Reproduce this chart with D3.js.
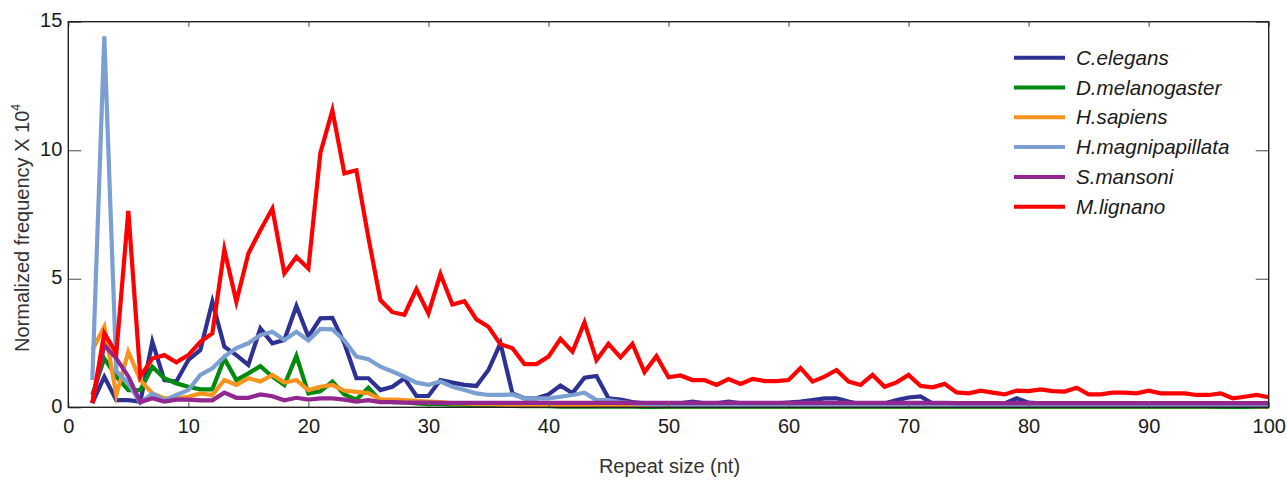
<!DOCTYPE html>
<html>
<head>
<meta charset="utf-8">
<script src="https://cdn.jsdelivr.net/npm/d3@7"></script>
<style>
  html, body { margin: 0; padding: 0; background: #ffffff; }
  svg { display: block; font-family: "Liberation Sans", Arial, Helvetica, sans-serif; }
</style>
</head>
<body>
<svg id="chart" width="1287" height="481"></svg>
<script>
// ---- data ----
const repeatSizes = d3.range(2, 101); // 2..100 nt

const species = ["C.elegans", "D.melanogaster", "H.sapiens", "H.magnipapillata", "S.mansoni", "M.lignano"];
const colors = ["#2e3192", "#008a0e", "#f7941d", "#7b9fd1", "#92278f", "#ff0000"];

const cElegans = [
  0.16, 1.19, 0.28, 0.28, 0.22, 2.55, 1.06, 1.0, 1.84, 2.23,
  4.11, 2.36, 2.03, 1.65, 3.07, 2.49, 2.62, 3.94, 2.75, 3.46,
  3.48, 2.49, 1.13, 1.13, 0.67, 0.8, 1.13, 0.44, 0.44, 1.06,
  0.96, 0.87, 0.83, 1.45, 2.49, 0.54, 0.35, 0.35, 0.5, 0.85,
  0.55, 1.15, 1.22, 0.35, 0.3, 0.2, 0.15, 0.15, 0.15, 0.15,
  0.22, 0.15, 0.15, 0.22, 0.15, 0.15, 0.15, 0.15, 0.18, 0.22,
  0.28, 0.35, 0.35, 0.22, 0.12, 0.12, 0.15, 0.28, 0.38, 0.42,
  0.15, 0.1, 0.1, 0.1, 0.1, 0.1, 0.15, 0.35, 0.18, 0.15,
  0.12, 0.13, 0.12, 0.14, 0.12, 0.12, 0.13, 0.12, 0.12, 0.13,
  0.12, 0.12, 0.12, 0.13, 0.12, 0.12, 0.12, 0.12, 0.12
];
const dMelanogaster = [
  0.48, 1.9, 1.19, 0.67, 0.67, 1.58, 1.13, 0.93, 0.8, 0.7,
  0.7, 1.9, 1.06, 1.32, 1.6, 1.19, 0.87, 2.0, 0.54, 0.62,
  1.0, 0.5, 0.3, 0.76, 0.25, 0.2, 0.2, 0.15, 0.12, 0.12,
  0.1, 0.1, 0.08, 0.06, 0.05, 0.05, 0.04, 0.04, 0.04, 0.03,
  0.03, 0.03, 0.03, 0.03, 0.03, 0.03, 0.02, 0.02, 0.02, 0.02,
  0.02, 0.02, 0.02, 0.02, 0.02, 0.02, 0.02, 0.02, 0.02, 0.02,
  0.02, 0.02, 0.02, 0.02, 0.02, 0.02, 0.02, 0.02, 0.02, 0.02,
  0.02, 0.02, 0.02, 0.02, 0.02, 0.02, 0.02, 0.02, 0.02, 0.02,
  0.02, 0.02, 0.02, 0.02, 0.02, 0.02, 0.02, 0.02, 0.02, 0.02,
  0.02, 0.02, 0.02, 0.02, 0.02, 0.02, 0.02, 0.02, 0.02
];
const hSapiens = [
  2.23, 3.13, 0.48, 2.16, 1.06, 0.54, 0.35, 0.35, 0.41, 0.54,
  0.48, 1.06, 0.87, 1.13, 1.0, 1.26, 0.96, 1.06, 0.67, 0.8,
  0.87, 0.65, 0.6, 0.55, 0.31, 0.3, 0.28, 0.25, 0.22, 0.2,
  0.15, 0.15, 0.12, 0.12, 0.1, 0.08, 0.08, 0.07, 0.07, 0.06,
  0.06, 0.06, 0.05, 0.05, 0.05, 0.05, 0.05, 0.05, 0.04, 0.04,
  0.04, 0.04, 0.04, 0.04, 0.04, 0.04, 0.04, 0.04, 0.04, 0.04,
  0.04, 0.04, 0.04, 0.04, 0.04, 0.04, 0.04, 0.04, 0.05, 0.04,
  0.04, 0.04, 0.04, 0.04, 0.04, 0.04, 0.04, 0.04, 0.04, 0.04,
  0.04, 0.04, 0.04, 0.04, 0.04, 0.04, 0.04, 0.04, 0.04, 0.04,
  0.04, 0.04, 0.04, 0.04, 0.05, 0.1, 0.05, 0.04, 0.04
];
const hMagnipapillata = [
  1.06, 14.43, 1.4, 0.93, 0.17, 0.54, 0.27, 0.48, 0.67, 1.26,
  1.52, 1.97, 2.3, 2.49, 2.81, 2.94, 2.62, 2.94, 2.6, 3.05,
  3.03, 2.6, 1.97, 1.87, 1.58, 1.39, 1.19, 0.96, 0.87, 1.0,
  0.8, 0.67, 0.54, 0.48, 0.48, 0.5, 0.35, 0.35, 0.35, 0.41,
  0.48, 0.57, 0.28, 0.28, 0.2, 0.15, 0.12, 0.1, 0.1, 0.09,
  0.09, 0.08, 0.08, 0.08, 0.08, 0.08, 0.08, 0.08, 0.08, 0.08,
  0.08, 0.08, 0.08, 0.08, 0.07, 0.07, 0.07, 0.07, 0.07, 0.07,
  0.07, 0.07, 0.07, 0.07, 0.07, 0.07, 0.07, 0.07, 0.07, 0.07,
  0.07, 0.07, 0.07, 0.07, 0.07, 0.07, 0.07, 0.07, 0.07, 0.07,
  0.07, 0.07, 0.07, 0.07, 0.07, 0.07, 0.07, 0.07, 0.07
];
const sMansoni = [
  0.16, 2.42, 1.9, 1.2, 0.2, 0.35, 0.22, 0.3, 0.3, 0.27,
  0.27, 0.57, 0.37, 0.37, 0.5, 0.43, 0.27, 0.37, 0.3, 0.35,
  0.35, 0.3, 0.22, 0.28, 0.2, 0.2, 0.18, 0.18, 0.18, 0.17,
  0.17, 0.17, 0.17, 0.17, 0.17, 0.17, 0.17, 0.17, 0.17, 0.17,
  0.17, 0.17, 0.17, 0.17, 0.17, 0.17, 0.17, 0.17, 0.17, 0.17,
  0.17, 0.17, 0.17, 0.17, 0.17, 0.17, 0.17, 0.17, 0.17, 0.17,
  0.17, 0.17, 0.17, 0.17, 0.17, 0.17, 0.17, 0.17, 0.17, 0.17,
  0.17, 0.17, 0.16, 0.16, 0.16, 0.16, 0.16, 0.16, 0.16, 0.16,
  0.16, 0.16, 0.16, 0.16, 0.16, 0.16, 0.16, 0.16, 0.16, 0.16,
  0.16, 0.16, 0.16, 0.16, 0.16, 0.16, 0.16, 0.16, 0.16
];
const mLignano = [
  0.16, 2.88, 2.1, 7.64, 1.19, 1.9, 2.03, 1.75, 2.03, 2.55,
  2.88, 6.14, 4.11, 5.98, 6.89, 7.73, 5.21, 5.85, 5.4, 9.9,
  11.55, 9.1, 9.22, 6.6, 4.17, 3.7, 3.6, 4.6, 3.65, 5.18,
  4.0, 4.13, 3.42, 3.13, 2.45, 2.3, 1.68, 1.68, 1.97, 2.66,
  2.16, 3.3, 1.83, 2.47, 1.94, 2.47, 1.37, 1.99, 1.17, 1.24,
  1.06, 1.06, 0.87, 1.1, 0.91, 1.1, 1.02, 1.02, 1.06, 1.53,
  1.0, 1.19, 1.45, 1.0, 0.87, 1.26, 0.8, 0.97, 1.26, 0.83,
  0.78, 0.91, 0.58, 0.54, 0.65, 0.57, 0.5, 0.65, 0.63, 0.7,
  0.63, 0.61, 0.76, 0.5, 0.5, 0.57, 0.57, 0.54, 0.65, 0.54,
  0.54, 0.54, 0.48, 0.48, 0.54, 0.35, 0.41, 0.48, 0.39
];
const seriesValues = [cElegans, dMelanogaster, hSapiens, hMagnipapillata, sMansoni, mLignano];

const xTicks = [0, 10, 20, 30, 40, 50, 60, 70, 80, 90, 100];
const yTicks = [0, 5, 10, 15];
const xTitle = "Repeat size (nt)";
const yTitle = "Normalized frequency X 10";
const yTitleSup = "4";

// ---- layout ----
const svg = d3.select("#chart");
const plotL = 68.3, plotR = 1268.7, plotT = 21.7, plotB = 407.3;
const x = d3.scaleLinear().domain([0, 100]).range([plotL, plotR]);
const y = d3.scaleLinear().domain([0, 15]).range([plotB, plotT]);
const textColor = "#1a1a1a";
const tickColor = "#666";

// lines
const line = d3.line().x(d => x(d[0])).y(d => y(d[1]));
const gLines = svg.append("g");
seriesValues.forEach((vals, i) => {
  const pts = repeatSizes.map((s, j) => [s, vals[j]]);
  gLines.append("path")
    .datum(pts)
    .attr("d", line)
    .attr("fill", "none")
    .attr("stroke", colors[i])
    .attr("stroke-width", 4.2)
    .attr("stroke-linejoin", "miter")
    .attr("stroke-miterlimit", 6);
});

// axes (ticks inward)
const axB = d3.axisBottom(x).tickValues(xTicks).tickSizeInner(-5).tickSizeOuter(0).tickPadding(12);
const axT = d3.axisTop(x).tickValues(xTicks).tickSizeInner(-5).tickSizeOuter(0).tickFormat("");
const axL = d3.axisLeft(y).tickValues(yTicks).tickSizeInner(-13).tickSizeOuter(0).tickPadding(6);
const axR = d3.axisRight(y).tickValues(yTicks).tickSizeInner(-13).tickSizeOuter(0).tickFormat("");

function styleAxis(g) {
  g.select(".domain").remove();
  g.selectAll(".tick line").attr("stroke", tickColor).attr("stroke-width", 1.2);
  g.selectAll(".tick text").attr("fill", textColor).attr("font-size", 20)
    .attr("font-family", "'Liberation Sans', Arial, Helvetica, sans-serif");
}
svg.append("g").attr("transform", `translate(0,${plotB})`).call(axB).call(styleAxis);
svg.append("g").attr("transform", `translate(0,${plotT})`).call(axT).call(styleAxis);
svg.append("g").attr("transform", `translate(${plotL},0)`).call(axL).call(styleAxis)
  .selectAll(".tick text").attr("dy", "0.25em");
svg.append("g").attr("transform", `translate(${plotR},0)`).call(axR).call(styleAxis);

// frame
svg.append("rect")
  .attr("x", plotL).attr("y", plotT)
  .attr("width", plotR - plotL).attr("height", plotB - plotT)
  .attr("fill", "none").attr("stroke", "#222").attr("stroke-width", 1.4);

// axis titles
svg.append("text")
  .attr("x", (plotL + plotR) / 2 + 1).attr("y", 473)
  .attr("text-anchor", "middle").attr("font-size", 20).attr("fill", "#333")
  .text(xTitle);

const yt = svg.append("text")
  .attr("transform", `translate(28.5,228) rotate(-90)`)
  .attr("text-anchor", "middle").attr("font-size", 20).attr("fill", "#333");
yt.append("tspan").text(yTitle);
yt.append("tspan").attr("font-size", 12).attr("dy", "-0.75em").text(yTitleSup);

// legend
const legY0 = 57.7, legDy = 29.8;
const leg = svg.append("g");
species.forEach((name, i) => {
  const yy = legY0 + i * legDy;
  leg.append("line")
    .attr("x1", 1014).attr("x2", 1065).attr("y1", yy).attr("y2", yy)
    .attr("stroke", colors[i]).attr("stroke-width", 4);
  leg.append("text")
    .attr("x", 1076).attr("y", yy + 7)
    .attr("font-size", 20.6).attr("font-style", "italic").attr("fill", textColor)
    .text(name);
});
</script>
</body>
</html>
